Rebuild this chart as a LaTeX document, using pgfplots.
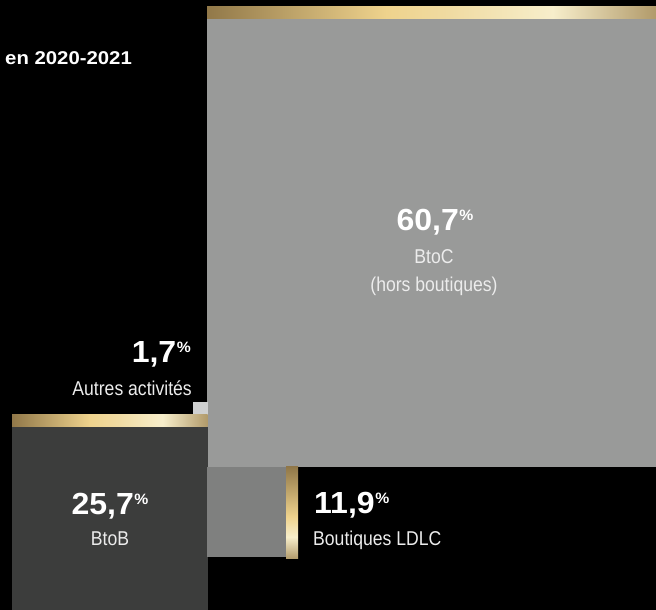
\documentclass[border=0pt]{standalone}
\usepackage{pgfplots}
\pgfplotsset{compat=1.18}
\usepackage{fontspec}
\setmainfont{Liberation Sans}[FakeStretch=0.88]
\newfontfamily\numf{Liberation Sans}[FakeStretch=1.05]
\newfontfamily\headf{Liberation Sans}[FakeStretch=1.1]
\definecolor{bigc}{HTML}{999A99}
\definecolor{darkc}{HTML}{3C3D3C}
\definecolor{medc}{HTML}{7F807F}
\definecolor{smallc}{HTML}{CFD0D0}
\definecolor{gA}{HTML}{917849}
\definecolor{gB}{HTML}{EFD38D}
\definecolor{gC}{HTML}{F0DBA2}
\definecolor{gD}{HTML}{F7EECB}
\definecolor{gE}{HTML}{B19A6A}
\definecolor{lab}{HTML}{ECECEC}
\pgfdeclarehorizontalshading{goldh}{100bp}{color(0bp)=(gA); color(25bp)=(gA); color(45bp)=(gB); color(52bp)=(gC); color(63.5bp)=(gD); color(75bp)=(gE); color(100bp)=(gE)}
\pgfdeclareverticalshading{goldv}{100bp}{color(0bp)=(gE); color(25bp)=(gE); color(37bp)=(gD); color(48bp)=(gB); color(75bp)=(gA); color(100bp)=(gA)}
\newcommand{\pct}[1]{{\numf\bfseries\fontsize{30.5bp}{30.5bp}\selectfont #1\hspace{0.5bp}\raisebox{10bp}{\fontsize{15bp}{15bp}\selectfont\%}}}
\begin{document}
\begin{tikzpicture}
\begin{axis}[scale only axis, width=656bp, height=610bp,
  xmin=0, xmax=656, ymin=0, ymax=610, y dir=reverse,
  axis lines=none, clip=false]
\fill[black] (rel axis cs:0,0) rectangle (rel axis cs:1,1);
% squares
\addplot[fill=bigc, draw=none] coordinates {(207,19) (656,19) (656,467.5) (207,467.5)} -- cycle;
\addplot[fill=darkc, draw=none] coordinates {(12,427) (207.5,427) (207.5,610) (12,610)} -- cycle;
\addplot[fill=smallc, draw=none] coordinates {(193,402) (207.5,402) (207.5,415) (193,415)} -- cycle;
\addplot[fill=medc, draw=none] coordinates {(207,467) (286,467) (286,557.5) (207,557.5)} -- cycle;
% gold bars
\addplot[shading=goldh, draw=none] coordinates {(207,7) (656,7) (656,19) (207,19)} -- cycle;
\addplot[shading=goldh, draw=none] coordinates {(12,415) (207.5,415) (207.5,427) (12,427)} -- cycle;
\addplot[shading=goldv, draw=none] coordinates {(286,467) (298,467) (298,559) (286,559)} -- cycle;
% texts
\node[anchor=base west, text=white, inner sep=0pt, font=\headf\bfseries\fontsize{18.5bp}{18.5bp}\selectfont] at (axis cs:5,65) {en 2020-2021};
\node[anchor=base, text=white, inner sep=0pt] at (axis cs:435,231) {\pct{60,7}};
\node[anchor=base, text=lab, inner sep=0pt, font=\fontsize{20bp}{20bp}\selectfont] at (axis cs:434,264) {BtoC};
\node[anchor=base, text=lab, inner sep=0pt, font=\fontsize{20bp}{20bp}\selectfont] at (axis cs:434,292) {(hors boutiques)};
\node[anchor=base east, text=white, inner sep=0pt] at (axis cs:191,363) {\pct{1,7}};
\node[anchor=base east, text=lab, inner sep=0pt, font=\fontsize{20bp}{20bp}\selectfont] at (axis cs:192,396) {Autres activités};
\node[anchor=base, text=white, inner sep=0pt] at (axis cs:110,515) {\pct{25,7}};
\node[anchor=base, text=lab, inner sep=0pt, font=\fontsize{20bp}{20bp}\selectfont] at (axis cs:110,546) {BtoB};
\node[anchor=base west, text=white, inner sep=0pt] at (axis cs:314,514) {\pct{11,9}};
\node[anchor=base west, text=lab, inner sep=0pt, font=\fontsize{20bp}{20bp}\selectfont] at (axis cs:313,546) {Boutiques LDLC};
\end{axis}
\end{tikzpicture}
\end{document}
